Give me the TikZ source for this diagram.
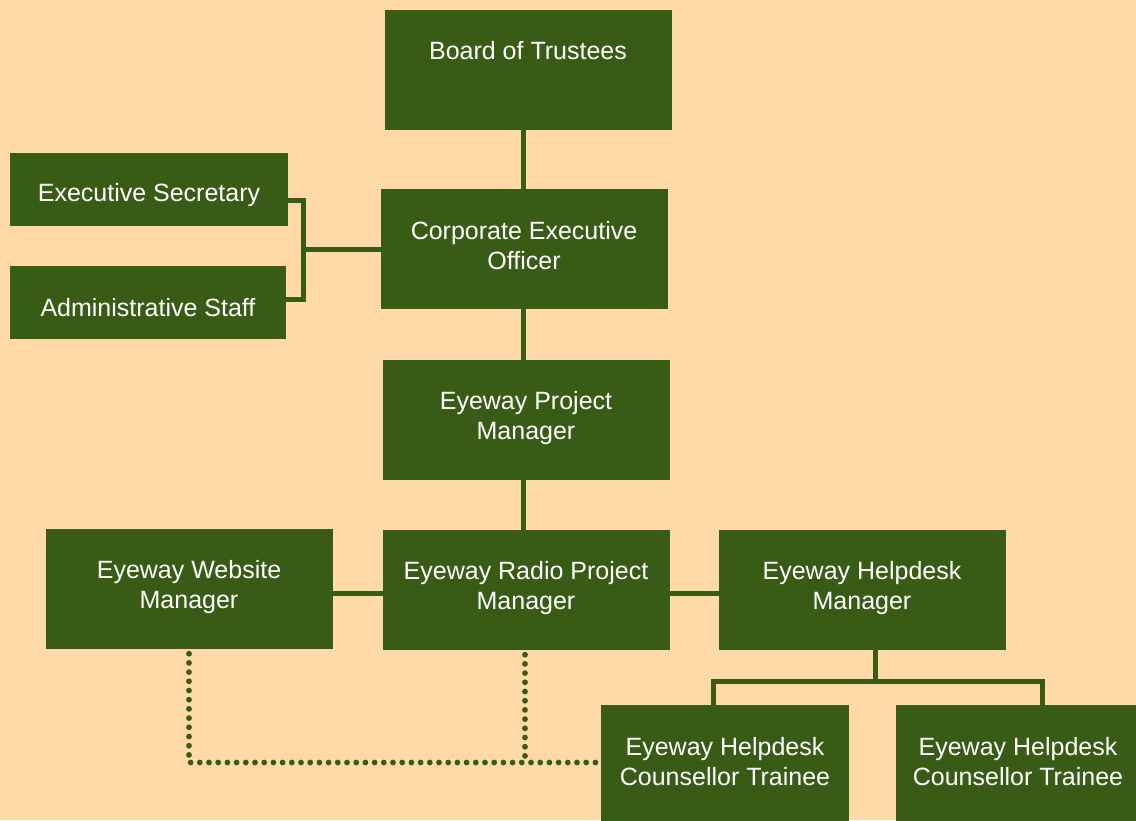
\documentclass[tikz,border=0pt]{standalone}
\usepackage{fontspec}
\setmainfont{Liberation Sans}
\usetikzlibrary{calc}
\definecolor{bg}{RGB}{255,218,168}
\definecolor{gr}{RGB}{56,92,22}
\begin{document}
\begin{tikzpicture}[x=1pt,y=-1pt,
  box/.style={draw=none,fill=gr,rectangle,inner sep=0pt},
  txt/.style={text=white,align=center,font=\fontsize{25}{30}\selectfont,inner sep=0pt},
  conn/.style={draw=gr,line width=5pt},
  dots/.style={draw=gr,line width=5.8pt,line cap=round,dash pattern=on 0pt off 9.2pt}]
\fill[bg] (0,0) rectangle (1136,820);
\useasboundingbox (0,0) rectangle (1136,820);
\clip (0,0) rectangle (1136,820);
% boxes
\node[box,minimum width=287pt,minimum height=120pt] (board) at (528.5,70) {};
\node[box,minimum width=287pt,minimum height=120pt] (ceo) at (524.5,249) {};
\node[box,minimum width=278pt,minimum height=73pt] (sec) at (149,189.5) {};
\node[box,minimum width=276pt,minimum height=73pt] (admin) at (148,302.5) {};
\node[box,minimum width=287pt,minimum height=120pt] (epm) at (526.5,420) {};
\node[box,minimum width=287pt,minimum height=120pt] (web) at (189.5,589) {};
\node[box,minimum width=287pt,minimum height=120pt] (radio) at (526.5,590) {};
\node[box,minimum width=287pt,minimum height=120pt] (help) at (862.5,590) {};
\node[box,minimum width=248pt,minimum height=120pt] (tr1) at (725,765) {};
\node[box,minimum width=244pt,minimum height=120pt] (tr2) at (1018,765) {};
% texts
\node[txt] (tboard) at (528,50.5) {Board of Trustees};
\node[txt] (tceo) at (524,246) {Corporate Executive\\Officer};
\node[txt] (tsec) at (149,195.5) {Executive Secretary};
\node[txt] (tadmin) at (148,308) {Administrative Staff};
\node[txt] (tepm) at (526,418.5) {Eyeway Project\\Manager};
\node[txt] (tweb) at (189,587.5) {Eyeway Website\\Manager};
\node[txt] (tradio) at (526,588.5) {Eyeway Radio Project\\Manager};
\node[txt] (thelp) at (862,588.5) {Eyeway Helpdesk\\Manager};
\node[txt] (ttr1) at (725,762) {Eyeway Helpdesk\\Counsellor Trainee};
\node[txt] (ttr2) at (1018,762) {Eyeway Helpdesk\\Counsellor Trainee};
% connectors
\draw[conn] ($(ceo.north)+(-1.5,0)$) -- ($(board.south)+(-5.5,0)$);
\draw[conn] ($(ceo.south)+(-1.5,0)$) -- ($(epm.north)+(-3.5,0)$);
\draw[conn] ($(epm.south)+(-3.5,0)$) -- ($(radio.north)+(-3.5,0)$);
\coordinate (bx) at ($(ceo.west)+(-77,0)$);
\draw[conn] ($(sec.east)+(-1,10.5)$) -| (bx) |- ($(admin.east)+(-1,-3.5)$);
\draw[conn] (ceo.west) -- (bx);
\draw[conn] ($(web.east)+(-1,4)$) -- ($(radio.west)+(1,3)$);
\draw[conn] ($(radio.east)+(-1,3)$) -- ($(help.west)+(1,3)$);
\coordinate (hj) at ($(help.south)+(12.5,31.5)$);
\draw[conn] ($(help.south)+(12.5,-1)$) -- (hj);
\draw[conn] ($(tr1.north)+(-12,1)$) |- (hj) -| ($(tr2.north)+(24,1)$);
\draw[dots] ($(web.south)+(-0.5,4.5)$) -- ($(web.south |- tr1.west)+(-0.5,-2.5)$) -- ($(tr1.west)+(-4,-2.5)$);
\draw[dots] ($(radio.south)+(-1.5,4.5)$) -- ($(radio.south |- tr1.west)+(-1.5,-2.5)$);
\end{tikzpicture}
\end{document}
